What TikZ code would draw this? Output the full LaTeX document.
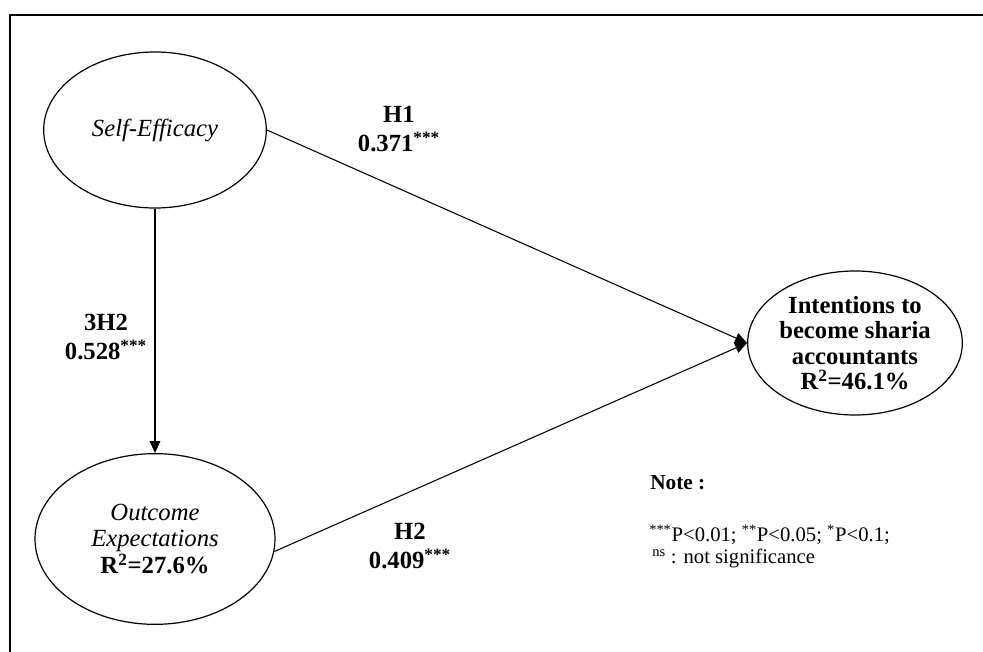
\documentclass[tikz,border=0pt]{standalone}
\usepackage{fontspec}
\setmainfont{Liberation Serif}
\usetikzlibrary{shapes.geometric,arrows.meta}

\begin{document}
\begin{tikzpicture}[x=0.75pt,y=-0.75pt,
  latent/.style={draw,ellipse,line width=0.9pt,inner sep=0pt,align=center,
    font=\fontsize{18.5}{20}\selectfont},
  path/.style={draw,line width=0.8pt,-{Triangle[length=9pt,width=8pt]}},
  coef/.style={align=center,font=\bfseries\fontsize{18.5}{21.75}\selectfont},
  note/.style={anchor=west,inner sep=0pt,font=\fontsize{15.5}{18}\selectfont}]
  \useasboundingbox (0,0) rectangle (983,652);
  \draw[line width=1.2pt] (983,15) -- (10,15) -- (10,652);
  \node[latent,minimum width=167pt,minimum height=117pt] (selfeff) at (155,130)
    {\itshape Self-Efficacy};
  \node[latent,minimum width=180pt,minimum height=128pt] (outcome) at (155,539)
    {\itshape Outcome\\\itshape Expectations\\\textbf{R\textsuperscript{2}=27.6\%}};
  \node[latent,minimum width=161pt,minimum height=108pt,
    font=\bfseries\fontsize{18.5}{19}\selectfont] (intent) at (855,343)
    {Intentions to\\become sharia\\accountants\\R\textsuperscript{2}=46.1\%};
  \draw[path] (selfeff.east) -- (intent.west);
  \draw[path] (outcome.-6) -- (intent.west);
  \draw[path] (selfeff.south) -- (outcome.north);
  \node[coef] (h1lab) at (399,129) {H1\\0.371\textsuperscript{***}};
  \node[coef] (h3lab) at (106,337) {3H2\\0.528\textsuperscript{***}};
  \node[coef] (h2lab) at (410,546) {H2\\0.409\textsuperscript{***}};
  \node[note,font=\bfseries\fontsize{16}{18}\selectfont] (notetitle) at (650,483) {Note :};
  \node[note] (notesig) at (649,535)
    {\textsuperscript{***}P<0.01; \textsuperscript{**}P<0.05; \textsuperscript{*}P<0.1;};
  \node[note] (notens) at (652,558) {\textsuperscript{ns} : not significance};
\end{tikzpicture}
\end{document}
